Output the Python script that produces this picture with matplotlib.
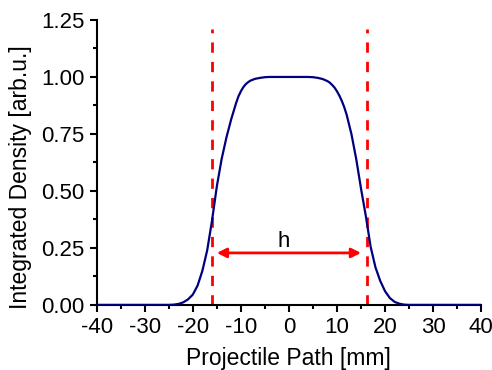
import matplotlib.pyplot as plt
from matplotlib.ticker import MultipleLocator

plt.rcParams['font.family'] = ['Liberation Sans', 'DejaVu Sans']
plt.rcParams['axes.unicode_minus'] = False

# integrated density profile along the projectile path
path_mm = [-40, -30, -25, -24, -23, -22, -21, -20, -19, -18, -17, -16, -15, -14,
           -13, -12, -11.5, -11, -10.5, -10, -9.5, -9, -8.5, -8, -7, -6, -5, -4, 0,
           4, 5, 6, 7, 8, 8.5, 9, 9.5, 10, 10.5, 11, 11.5, 12, 13, 14, 15, 16, 17, 18, 19, 20,
           21, 22, 23, 24, 25, 30, 40]
density = [0.0, 0.0, 0.0, 0.001, 0.004, 0.011, 0.024, 0.045, 0.085, 0.15, 0.24, 0.37, 0.52, 0.64,
           0.735, 0.815, 0.85, 0.885, 0.915, 0.937, 0.955, 0.968, 0.977, 0.984, 0.992, 0.996, 0.999, 1.0, 1.0,
           1.0, 0.999, 0.996, 0.991, 0.982, 0.975, 0.965, 0.953, 0.937, 0.918, 0.895, 0.868, 0.835, 0.75, 0.64, 0.51, 0.39, 0.255, 0.165, 0.105, 0.06,
           0.03, 0.013, 0.005, 0.001, 0.0, 0.0, 0.0]

# width markers
h_edges = [-16.1, 16.3]
arrow_ends = [-15, 15]
arrow_y = 0.228

fig = plt.figure(figsize=(4.92, 3.70), dpi=100)
ax = fig.add_axes([0.1965, 0.176, 0.7815, 0.77])

ax.plot(path_mm, density, color="#00007f", linewidth=1.6, zorder=3)

for xe in h_edges:
    ax.plot([xe, xe], [0, 1.21], color="red", linewidth=2, dashes=(3.7, 3.3), zorder=2)

ax.annotate("", xy=(arrow_ends[0], arrow_y), xytext=(arrow_ends[1], arrow_y),
            arrowprops=dict(arrowstyle="<|-|>", color="red", lw=2,
                            mutation_scale=14, shrinkA=0, shrinkB=0))
ax.text(-1, 0.255, "h", fontsize=16, ha="center", va="baseline")

ax.set_xlim(-40, 40)
ax.set_ylim(0, 1.25)
ax.xaxis.set_major_locator(MultipleLocator(10))
ax.xaxis.set_minor_locator(MultipleLocator(5))
ax.yaxis.set_major_locator(MultipleLocator(0.25))
ax.yaxis.set_minor_locator(MultipleLocator(0.125))
ax.yaxis.set_major_formatter(plt.FormatStrFormatter("%.2f"))

ax.spines['top'].set_visible(False)
ax.spines['right'].set_visible(False)
for s in ('left', 'bottom'):
    ax.spines[s].set_linewidth(1.5)
ax.tick_params(which='major', direction='out', length=5, width=1.5, labelsize=16)
ax.tick_params(which='minor', direction='out', length=3, width=1.5)

ax.set_xlabel("Projectile Path [mm]", fontsize=16.5, labelpad=7)
ax.set_ylabel("Integrated Density [arb.u.]", fontsize=16.5)
ax.yaxis.set_label_coords(-0.168, 0.45)

plt.savefig("out.png", dpi=100)
